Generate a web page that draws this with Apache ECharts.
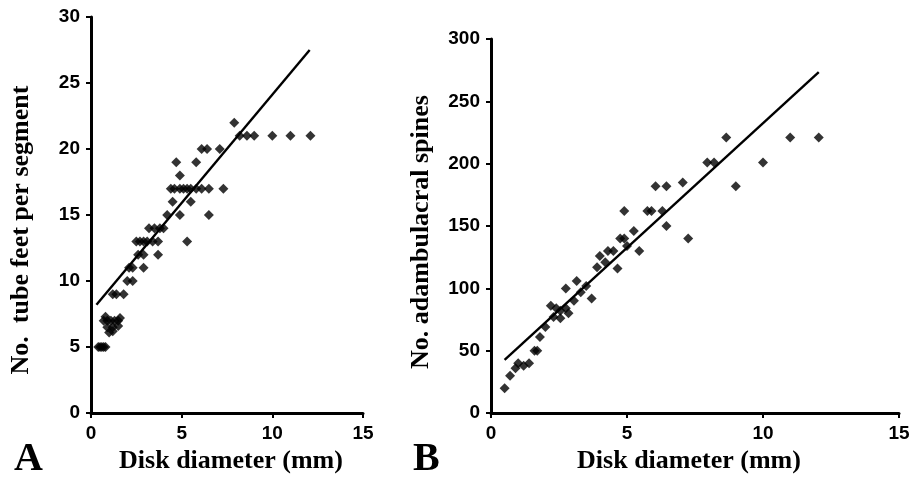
<!DOCTYPE html>
<html>
<head>
<meta charset="utf-8">
<script src="https://cdn.jsdelivr.net/npm/echarts@6/dist/echarts.min.js"></script>
<style>
  html, body { margin: 0; padding: 0; background: #fff; }
  #chart { width: 917px; height: 479px; }
</style>
</head>
<body>
<div id="chart"></div>
<script>
/* ---------------------------------------------------------------- */
/*   Disk diameter vs tube feet (A) and adambulacral spines (B)     */
/* ---------------------------------------------------------------- */

var xTicks = [0, 5, 10, 15];

// panel A : [disk diameter (mm), tube feet per segment]
var tubeFeet = [
    [0.4, 5], [0.5, 5], [0.6, 5], [0.7, 5], [0.8, 5],
    [0.7, 7], [0.9, 7], [1.1, 7], [1.3, 7], [1.5, 7], [1.6, 7.2],
    [0.9, 6.5], [1.2, 6.5], [1.5, 6.6], [1.0, 6.1], [1.2, 6.2], [0.8, 7.3],
    [1.2, 9], [1.4, 9], [1.8, 9],
    [2.0, 10], [2.3, 10],
    [2.1, 11], [2.3, 11], [2.9, 11],
    [2.6, 12], [2.9, 12], [3.7, 12],
    [2.5, 13], [2.7, 13], [2.9, 13], [3.1, 13], [3.4, 13], [3.7, 13], [5.3, 13],
    [3.2, 14], [3.5, 14], [3.8, 14], [4.0, 14],
    [4.2, 15], [4.9, 15], [6.5, 15],
    [4.5, 16], [5.5, 16],
    [4.4, 17], [4.6, 17], [4.9, 17], [5.1, 17], [5.3, 17], [5.5, 17], [5.8, 17], [6.1, 17], [6.5, 17], [7.3, 17],
    [4.9, 18],
    [4.7, 19], [5.8, 19],
    [6.1, 20], [6.4, 20], [7.1, 20],
    [7.9, 22],
    [8.2, 21], [8.6, 21], [9.0, 21], [10.0, 21], [11.0, 21], [12.1, 21]
];
var tubeFeetFit = [[0.3, 8.2], [12.06, 27.5]];

// panel B : [disk diameter (mm), adambulacral spines]
var spines = [
    [0.5, 20], [0.7, 30], [0.9, 36], [1.0, 40], [1.2, 38], [1.4, 40],
    [1.6, 50], [1.7, 50], [1.8, 61], [2.0, 69],
    [2.2, 86], [2.3, 77], [2.4, 84], [2.55, 76], [2.55, 82],
    [2.75, 100], [2.75, 84], [2.85, 80], [3.05, 90], [3.15, 106],
    [3.3, 97], [3.5, 102], [3.7, 92],
    [3.9, 117], [4.0, 126], [4.2, 121], [4.3, 130], [4.5, 130],
    [4.65, 116], [4.75, 140], [4.9, 140], [4.9, 162], [5.0, 134],
    [5.25, 146], [5.45, 130],
    [5.75, 162], [5.9, 162], [6.05, 182], [6.3, 162], [6.45, 182], [6.45, 150],
    [7.05, 185], [7.25, 140],
    [7.95, 201], [8.2, 201], [8.65, 221], [9.0, 182],
    [10.0, 201], [11.0, 221], [12.05, 221]
];
var spinesFit = [[0.5, 42.6], [12.05, 273.4]];

var black = '#000';
var tickFont = { color: black, fontFamily: 'Liberation Sans', fontWeight: 'bold', fontSize: 19, margin: 11 };
var titleFont = { color: black, fontFamily: 'Liberation Serif', fontWeight: 'bold', fontSize: 26 };

var makeX = function (idx, pad) {
    return {
        gridIndex: idx, type: 'value', min: 0, max: 15, interval: 5,
        name: 'Disk diameter (mm)', nameLocation: 'middle', nameGap: 32,
        nameTextStyle: Object.assign({ padding: pad }, titleFont),
        axisLine: { lineStyle: { color: black, width: 3 } },
        axisTick: { length: 5, lineStyle: { color: black, width: 2 } },
        axisLabel: tickFont,
        splitLine: { show: false }
    };
};
var makeY = function (idx, max, interval, name, pad) {
    return {
        gridIndex: idx, type: 'value', min: 0, max: max, interval: interval,
        name: name, nameLocation: 'middle', nameGap: 57,
        nameTextStyle: Object.assign({ padding: pad }, titleFont),
        axisLine: { show: true, lineStyle: { color: black, width: 3 } },
        axisTick: { show: true, length: 5, lineStyle: { color: black, width: 2 } },
        axisLabel: tickFont,
        splitLine: { show: false }
    };
};
var dots = function (idx, data) {
    return {
        type: 'scatter', xAxisIndex: idx, yAxisIndex: idx, data: data,
        symbol: 'diamond', symbolSize: 10,
        itemStyle: { color: black }, silent: true
    };
};
var fit = function (idx, data) {
    return {
        type: 'line', xAxisIndex: idx, yAxisIndex: idx, data: data,
        showSymbol: false, lineStyle: { color: black, width: 2.4 }, silent: true
    };
};

var chart = echarts.init(document.getElementById('chart'));
chart.setOption({
    animation: false,
    backgroundColor: '#fff',
    grid: [
        { left: 91, right: 554, top: 17, bottom: 65 },
        { left: 491, right: 18, top: 39, bottom: 65 }
    ],
    xAxis: [makeX(0, [0, 0, 0, 8]), makeX(1, [0, 12, 0, 0])],
    yAxis: [
        makeY(0, 30, 5, 'No.  tube feet per segment', [0, 30, 0, 0]),
        makeY(1, 300, 50, 'No. adambulacral spines', [0, 12, 0, 0])
    ],
    series: [dots(0, tubeFeet), fit(0, tubeFeetFit), dots(1, spines), fit(1, spinesFit)],
    graphic: [
        { type: 'text', left: 14, top: 440, style: { text: 'A', fill: black, font: 'bold 40px "Liberation Serif"' } },
        { type: 'text', left: 413, top: 440, style: { text: 'B', fill: black, font: 'bold 40px "Liberation Serif"' } }
    ]
});
</script>
</body>
</html>
